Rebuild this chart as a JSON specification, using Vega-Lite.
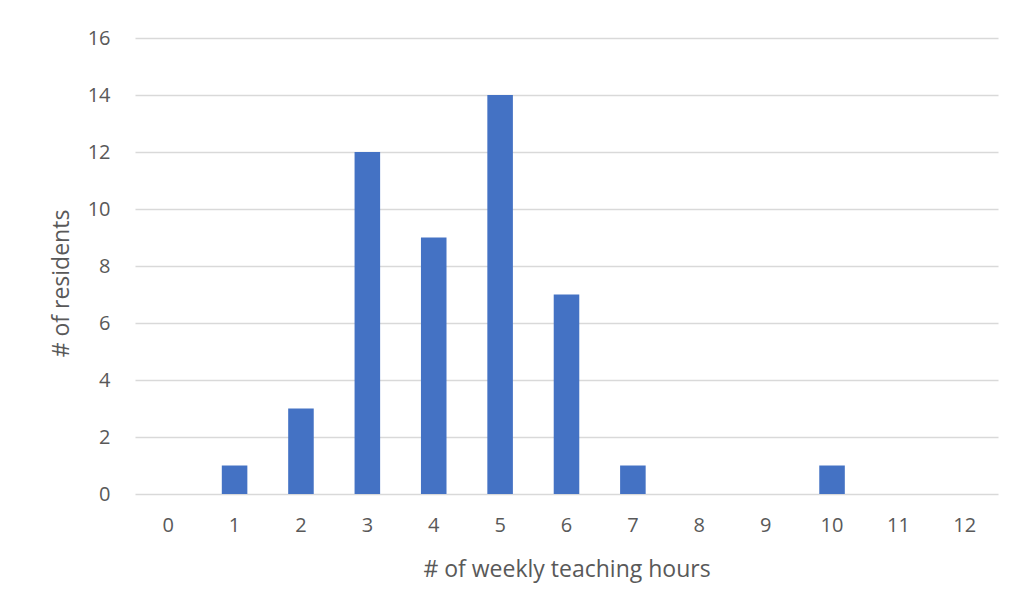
{
  "$schema": "https://vega.github.io/schema/vega-lite/v6.json",
  "width": 863,
  "height": 456,
  "autosize": "none",
  "padding": {"left": 135, "top": 38, "right": 18, "bottom": 122},
  "background": "white",
  "config": {
    "view": {"stroke": null},
    "font": "Open Sans"
  },
  "data": {
    "values": [
      {"hours": "0", "residents": 0},
      {"hours": "1", "residents": 1},
      {"hours": "2", "residents": 3},
      {"hours": "3", "residents": 12},
      {"hours": "4", "residents": 9},
      {"hours": "5", "residents": 14},
      {"hours": "6", "residents": 7},
      {"hours": "7", "residents": 1},
      {"hours": "8", "residents": 0},
      {"hours": "9", "residents": 0},
      {"hours": "10", "residents": 1},
      {"hours": "11", "residents": 0},
      {"hours": "12", "residents": 0}
    ]
  },
  "mark": {"type": "bar", "color": "#4472C4"},
  "encoding": {
    "x": {
      "field": "hours",
      "type": "ordinal",
      "sort": null,
      "scale": {"paddingInner": 0.615, "paddingOuter": 0.3075},
      "axis": {
        "title": "# of weekly teaching hours",
        "labelAngle": 0,
        "domain": false,
        "ticks": false,
        "labelPadding": 21,
        "labelFontSize": 20,
        "labelColor": "#595959",
        "labelFont": "Open Sans",
        "titleFont": "Open Sans",
        "titleFontSize": 23,
        "titleFontWeight": "normal",
        "titleColor": "#595959",
        "titleBaseline": "alphabetic",
        "titleY": 82
      }
    },
    "y": {
      "field": "residents",
      "type": "quantitative",
      "scale": {"domain": [0, 16], "nice": false},
      "axis": {
        "title": "# of residents",
        "values": [0, 2, 4, 6, 8, 10, 12, 14, 16],
        "domain": false,
        "ticks": false,
        "grid": true,
        "gridColor": "#D9D9D9",
        "gridWidth": 1.5,
        "labelPadding": 25,
        "labelFontSize": 20,
        "labelColor": "#595959",
        "labelFont": "Open Sans",
        "titleFont": "Open Sans",
        "titleFontSize": 23,
        "titleFontWeight": "normal",
        "titleColor": "#595959",
        "titleAngle": -90,
        "titleAlign": "center",
        "titleBaseline": "middle",
        "titleX": -74,
        "titleY": 245
      }
    }
  }
}
